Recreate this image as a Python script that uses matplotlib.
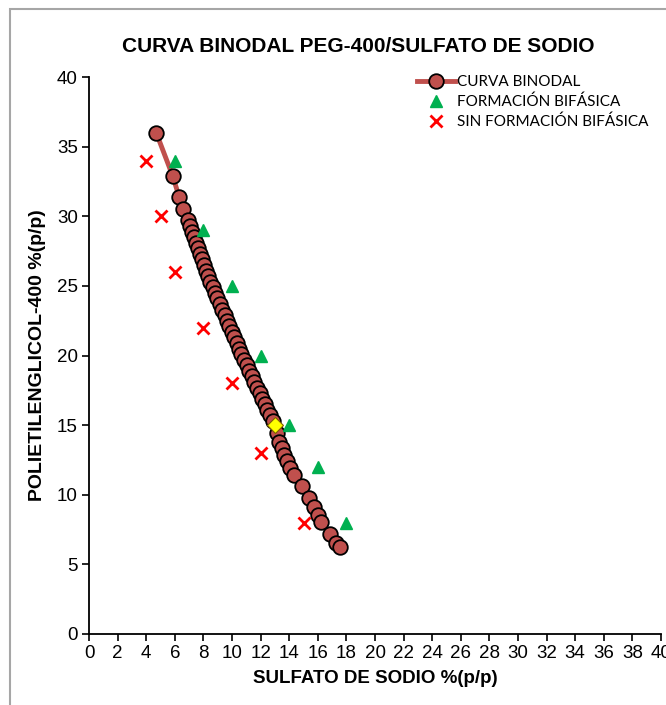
import matplotlib
matplotlib.use('Agg')
import matplotlib.pyplot as plt
from matplotlib.patches import Rectangle

# curva binodal (sulfato de sodio, PEG-400)
curva_x = [4.7, 5.85, 6.3, 6.6, 6.9,
           7.04, 7.19, 7.33, 7.48, 7.62, 7.76, 7.91, 8.05, 8.20, 8.35, 8.49,
           8.64, 8.81, 8.98, 9.15, 9.31, 9.48, 9.65, 9.82, 9.99, 10.15, 10.32,
           10.49, 10.66, 10.84, 11.02, 11.20, 11.38, 11.56, 11.74, 11.93, 12.11,
           12.30, 12.48, 12.67, 12.86,
           13.13, 13.31, 13.47, 13.66, 13.82, 14.06, 14.36, 14.87, 15.38, 15.73,
           16.04, 16.22, 16.85, 17.27, 17.55]
curva_y = [36.0, 32.9, 31.4, 30.5, 29.7,
           29.3, 28.9, 28.5, 28.1, 27.7, 27.3, 26.9, 26.5, 26.1, 25.7, 25.3,
           24.9, 24.5, 24.1, 23.7, 23.3, 22.9, 22.5, 22.1, 21.7, 21.3, 20.9,
           20.5, 20.1, 19.7, 19.3, 18.9, 18.5, 18.1, 17.7, 17.3, 16.9,
           16.5, 16.1, 15.7, 15.3,
           14.41, 13.81, 13.34, 12.85, 12.42, 11.90, 11.42, 10.63, 9.74, 9.14,
           8.55, 8.06, 7.18, 6.51, 6.27]

bif_x = [6, 8, 10, 12, 14, 16, 18]
bif_y = [34, 29, 25, 20, 15, 12, 8]

sin_x = [4, 5, 6, 8, 10, 12, 15]
sin_y = [34, 30, 26, 22, 18, 13, 8]

critico_x = [13.0]
critico_y = [15.0]

fig = plt.figure(figsize=(6.66, 7.05), dpi=100)
# borde gris del grafico
fig.patches.append(Rectangle((10/666, -0.1), 1.2, 1.1 - 9/705, transform=fig.transFigure,
                             fill=False, edgecolor='#a6a6a6', linewidth=1.5))

ax = fig.add_axes([89/666, 71/705, 572/666, 557/705])

ax.plot(curva_x, curva_y, '-o', color='#c0504d', linewidth=3.5,
        markerfacecolor='#c0504d', markeredgecolor='black', markeredgewidth=1.3,
        markersize=10.5, label='CURVA BINODAL', zorder=3)
ax.plot(bif_x, bif_y, '^', color='#00b050', markersize=8, linestyle='none',
        label='FORMACIÓN BIFÁSICA', zorder=4)
ax.plot(sin_x, sin_y, 'x', color='#ff0000', markersize=8, markeredgewidth=2,
        linestyle='none', label='SIN FORMACIÓN BIFÁSICA', zorder=4)
ax.plot(critico_x, critico_y, 'D', color='#ffff00', markeredgecolor='#7f6000',
        markeredgewidth=0.8, markersize=8.5, linestyle='none', zorder=5)

ax.set_xlim(0, 40)
ax.set_ylim(0, 40)
ax.set_xticks(range(0, 41, 2))
ax.set_yticks(range(0, 41, 5))
ax.spines['top'].set_visible(False)
ax.spines['right'].set_visible(False)
for s in ['left', 'bottom']:
    ax.spines[s].set_linewidth(1.3)
ax.tick_params(direction='out', length=5, width=1.2, labelsize=13.5, pad=3)
for lbl in ax.get_xticklabels() + ax.get_yticklabels():
    lbl.set_fontfamily('Liberation Sans')

ax.set_xlabel('SULFATO DE SODIO %(p/p)', fontsize=13.5, fontweight='bold',
              family='Liberation Sans', labelpad=6)
ax.set_ylabel('POLIETILENGLICOL-400 %(p/p)', fontsize=14, fontweight='bold',
              family='Liberation Sans', labelpad=8)

fig.text(358/666, 1 - 46/705, 'CURVA BINODAL PEG-400/SULFATO DE SODIO',
         ha='center', va='center', fontsize=15, fontweight='bold',
         family='Liberation Sans')

ax.legend(loc='upper left', bbox_to_anchor=(0.555, 1.022), frameon=False,
          prop={'family': 'Lato', 'size': 11}, handlelength=2.5,
          handletextpad=0.1, labelspacing=0.35, borderaxespad=0.3)

fig.savefig('out.png', dpi=100)
